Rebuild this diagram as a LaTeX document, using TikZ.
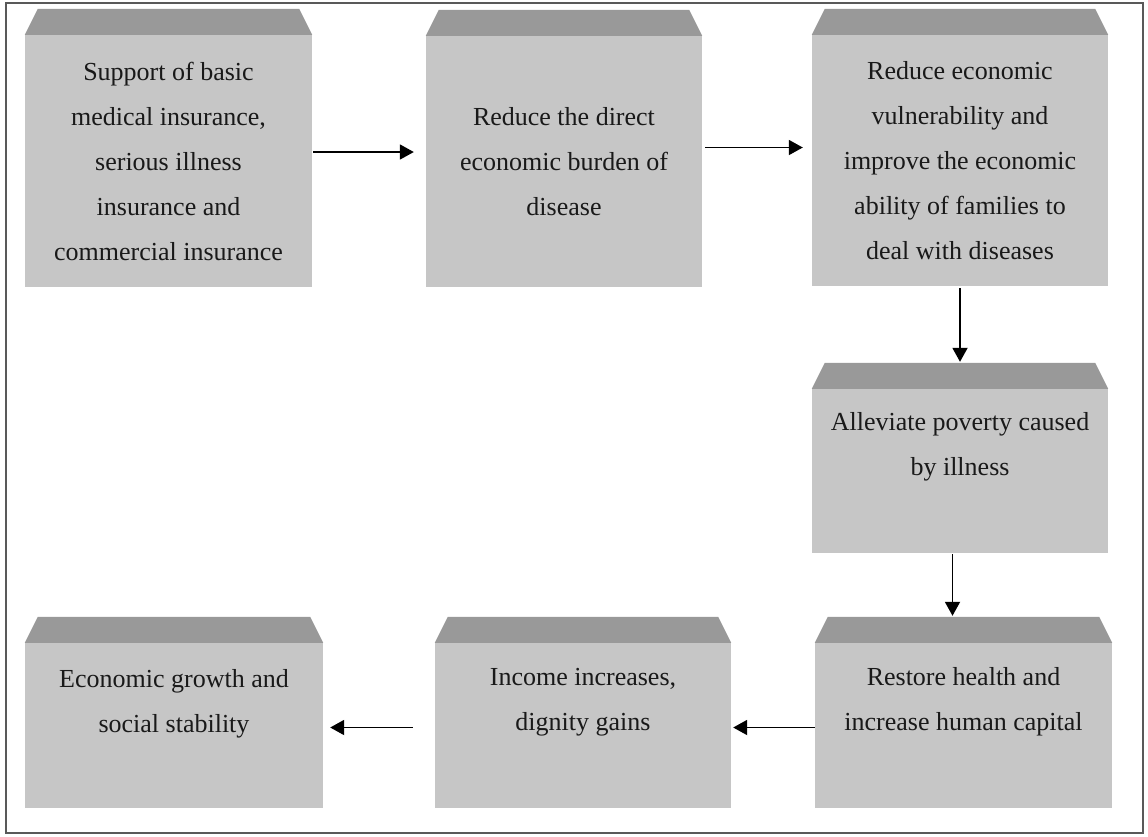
\documentclass[tikz,border=0pt]{standalone}
\usepackage{fontspec}
\setmainfont{Liberation Serif}
\usepackage{xcolor}
\usetikzlibrary{arrows.meta}

\definecolor{boxgray}{HTML}{C6C6C6}
\definecolor{topgray}{HTML}{999999}

\tikzset{
  body/.style={fill=boxgray, draw=none, inner sep=0pt},
  bevel/.style={fill=topgray},
  txt/.style={align=center, inner sep=0pt, text=black!90, font=\fontsize{26}{45}\selectfont},
  arr/.style={line width=1.8pt, -{Triangle[length=14pt,width=15pt]}}
}

\begin{document}
\begin{tikzpicture}[x=1pt,y=-1pt]
\useasboundingbox (0,0) rectangle (1148,836);
\draw [line width=1.2pt, black!65] (6,3) rectangle (1143,833);

% boxes
\node [body, minimum width=287pt, minimum height=252pt] (b1) at (168.5,161) {};
\node [body, minimum width=276pt, minimum height=251pt] (b2) at (564,161.5) {};
\node [body, minimum width=296pt, minimum height=251pt] (b3) at (960,160.5) {};
\node [body, minimum width=296pt, minimum height=164pt] (b4) at (960,471) {};
\node [body, minimum width=297pt, minimum height=165pt] (b5) at (963.5,725.5) {};
\node [body, minimum width=296pt, minimum height=165pt] (b6) at (583,725.5) {};
\node [body, minimum width=298pt, minimum height=165pt] (b7) at (174,725.5) {};

\foreach \b in {b1,b2,b3,b4,b5,b6,b7}
  \fill [bevel] (\b.north west) -- ([xshift=13pt,yshift=26pt]\b.north west)
    -- ([xshift=-13pt,yshift=26pt]\b.north east) -- (\b.north east) -- cycle;

% texts
\node [txt] (t1) at (b1.center) {Support of basic\\medical insurance,\\serious illness\\insurance and\\commercial insurance};
\node [txt] (t2) at (b2.center) {Reduce the direct\\economic burden of\\disease};
\node [txt] (t3) at (b3.center) {Reduce economic\\vulnerability and\\improve the economic\\ability of families to\\deal with diseases};
\node [txt] (t4) at ([yshift=24pt]b4.center) {Alleviate poverty caused\\by illness};
\node [txt] (t5) at ([yshift=24pt]b5.center) {Restore health and\\increase human capital};
\node [txt] (t6) at ([yshift=23pt]b6.center) {Income increases,\\dignity gains};
\node [txt] (t7) at ([yshift=22pt]b7.center) {Economic growth and\\social stability};

% arrows
\draw [arr, shorten <=1pt, shorten >=12pt] ([yshift=9pt]b1.east) -- ([yshift=9pt]b1.east -| b2.west);
\draw [arr, shorten <=3pt, shorten >=9pt] ([yshift=14pt]b2.east) -- ([yshift=14pt]b2.east -| b3.west);
\draw [arr, shorten <=2pt, shorten >=1pt] (b3.south) -- ([yshift=26pt]b4.north);
\draw [arr, shorten <=1pt, shorten >=1pt] (b4.south -| b5.north) ++(-11,0) coordinate (c45) -- ([yshift=26pt]c45 |- b5.north);
\draw [arr, shorten >=2pt] ([yshift=-2pt]b5.west) -- ([yshift=-2pt]b5.west -| b6.east);
\draw [arr, shorten <=22pt, shorten >=7pt] ([yshift=-2pt]b6.west) -- ([yshift=-2pt]b6.west -| b7.east);

\end{tikzpicture}
\end{document}
